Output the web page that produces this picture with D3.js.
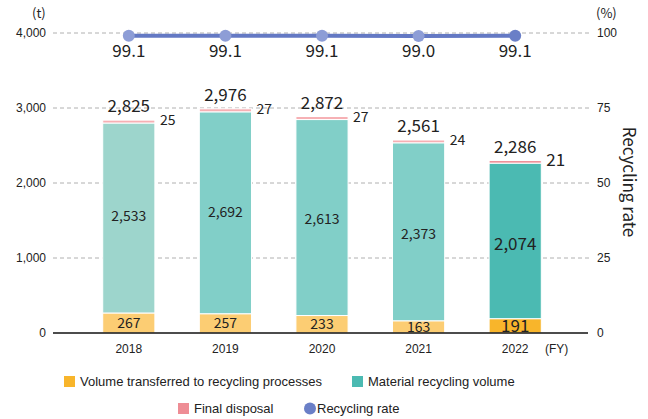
<!DOCTYPE html>
<html>
<head>
<meta charset="utf-8">
<script src="https://cdn.jsdelivr.net/npm/d3@7"></script>
<style>
body { margin:0; background:#fff; }
svg { display:block; }
.num { font-family:"Noto Sans CJK JP","Noto Sans",sans-serif; fill:#222; }
.tick { font-family:"Liberation Sans",Arial,sans-serif; font-size:12px; fill:#222; }
.leg { font-family:"Liberation Sans",Arial,sans-serif; font-size:13px; fill:#222; }
</style>
</head>
<body>
<svg class="chart"></svg>
<script>
var years = ["2018","2019","2020","2021","2022"];
var transferred = [267, 257, 233, 163, 191];
var material = [2533, 2692, 2613, 2373, 2074];
var disposal = [25, 27, 27, 24, 21];
var totals = [2825, 2976, 2872, 2561, 2286];
var rate = [99.1, 99.1, 99.1, 99.0, 99.1];
var leftTicks = [0, 1000, 2000, 3000, 4000];
var rightTicks = [0, 25, 50, 75, 100];

var screen = {width:648, height:419};
var plot = {left:53, right:590, top:33, bottom:333};

var svg = d3.select(".chart")
    .attr("width", screen.width)
    .attr("height", screen.height);

var xScale = d3.scaleBand()
    .domain(years)
    .range([80.5, 563.5])
    .paddingInner(0.46)
    .paddingOuter(0.23);

var yScale = d3.scaleLinear()
    .domain([0, 4000])
    .range([plot.bottom, plot.top]);

var rScale = d3.scaleLinear()
    .domain([0, 100])
    .range([plot.bottom, plot.top]);

var fmt = d3.format(",");

// grid lines
svg.append("g")
    .selectAll("line")
    .data(leftTicks.filter(function(d){ return d > 0; }))
    .enter()
    .append("line")
    .attr("x1", plot.left)
    .attr("x2", plot.right)
    .attr("y1", function(d){ return yScale(d); })
    .attr("y2", function(d){ return yScale(d); })
    .attr("stroke", "#b0b0b0")
    .attr("stroke-dasharray", "4,3");

// left ticks
svg.append("g")
    .selectAll("text")
    .data(leftTicks)
    .enter()
    .append("text")
    .classed("tick", true)
    .attr("x", 46)
    .attr("y", function(d){ return yScale(d) + 4; })
    .attr("text-anchor", "end")
    .text(function(d){ return fmt(d); });

// right ticks
svg.append("g")
    .selectAll("text")
    .data(rightTicks)
    .enter()
    .append("text")
    .classed("tick", true)
    .attr("x", 597)
    .attr("y", function(d){ return rScale(d) + 4; })
    .text(function(d){ return d; });

svg.append("text").classed("num", true).attr("font-size", 13)
    .attr("x", 32).attr("y", 18).text("(t)");
svg.append("text").classed("num", true).attr("font-size", 13)
    .attr("x", 596).attr("y", 18).text("(%)");
svg.append("text").classed("tick", true).attr("font-size", 13)
    .attr("x", 545).attr("y", 353).text("(FY)");

svg.append("text")
    .classed("num", true)
    .attr("font-size", 17)
    .attr("text-anchor", "middle")
    .attr("transform", "translate(623,182) rotate(90)")
    .text("Recycling rate");

// bars
var colYellow = ["#fccd73","#fccd73","#fccd73","#fccd73","#f8b52b"];
var colTeal = ["#9dd5cc","#81cfc8","#81cfc8","#81cfc8","#4bbab2"];
var colPink = ["#f6b0b4","#f6b0b4","#f6b0b4","#f6b0b4","#ee8d95"];

var bars = svg.append("g")
    .selectAll("g")
    .data(years)
    .enter()
    .append("g");

bars.append("rect")
    .attr("x", function(d){ return xScale(d); })
    .attr("width", xScale.bandwidth())
    .attr("y", function(d,i){ return yScale(transferred[i]); })
    .attr("height", function(d,i){ return yScale(0) - yScale(transferred[i]); })
    .attr("fill", function(d,i){ return colYellow[i]; })
    .attr("stroke", "#fff").attr("stroke-width", 1);

bars.append("rect")
    .attr("x", function(d){ return xScale(d); })
    .attr("width", xScale.bandwidth())
    .attr("y", function(d,i){ return yScale(transferred[i] + material[i]); })
    .attr("height", function(d,i){ return yScale(transferred[i]) - yScale(transferred[i] + material[i]); })
    .attr("fill", function(d,i){ return colTeal[i]; })
    .attr("stroke", "#fff").attr("stroke-width", 1);

bars.append("rect")
    .attr("x", function(d){ return xScale(d); })
    .attr("width", xScale.bandwidth())
    .attr("y", function(d,i){ return yScale(transferred[i] + material[i] + disposal[i]) - 1; })
    .attr("height", function(d,i){ return yScale(transferred[i] + material[i]) - yScale(transferred[i] + material[i] + disposal[i]) + 1; })
    .attr("fill", function(d,i){ return colPink[i]; })
    .attr("stroke", "#fff").attr("stroke-width", 1);

var cx = function(d){ return xScale(d) + xScale.bandwidth()/2; };

// labels
bars.append("text")
    .classed("num", true)
    .attr("text-anchor", "middle")
    .attr("font-size", function(d,i){ return i == 4 ? 17 : 14; })
    .attr("x", cx)
    .attr("y", function(d,i){ return yScale(transferred[i]/2) + (i == 4 ? 6 : 5); })
    .text(function(d,i){ return fmt(transferred[i]); });

bars.append("text")
    .classed("num", true)
    .attr("text-anchor", "middle")
    .attr("font-size", function(d,i){ return i == 4 ? 17 : 14; })
    .attr("x", cx)
    .attr("y", function(d,i){ return yScale(transferred[i] + material[i]/2) + 3 + i*1.5; })
    .text(function(d,i){ return fmt(material[i]); });

bars.append("text")
    .classed("num", true)
    .attr("font-size", function(d,i){ return i == 4 ? 17 : 14; })
    .attr("x", function(d){ return xScale(d) + xScale.bandwidth() + 5; })
    .attr("y", function(d,i){ return yScale(totals[i]) + 4; })
    .text(function(d,i){ return disposal[i]; });

bars.append("text")
    .classed("num", true)
    .attr("font-size", 17)
    .attr("text-anchor", "middle")
    .attr("x", cx)
    .attr("y", function(d,i){ return yScale(totals[i]) - 9; })
    .text(function(d,i){ return fmt(totals[i]); });

bars.append("text")
    .classed("tick", true)
    .attr("font-size", 13)
    .attr("text-anchor", "middle")
    .attr("x", cx)
    .attr("y", 353)
    .text(function(d){ return d; });

// zero line
svg.append("line")
    .attr("x1", plot.left).attr("x2", 588)
    .attr("y1", yScale(0)).attr("y2", yScale(0))
    .attr("stroke", "#111").attr("stroke-width", 1.5);

// recycling rate line
var line = d3.line()
    .x(function(d,i){ return cx(years[i]); })
    .y(function(d){ return rScale(d); });

svg.append("path")
    .datum(rate)
    .attr("d", line)
    .attr("fill", "none")
    .attr("stroke", "#6479c4")
    .attr("stroke-width", 4);

svg.append("g")
    .selectAll("circle")
    .data(rate)
    .enter()
    .append("circle")
    .attr("cx", function(d,i){ return cx(years[i]); })
    .attr("cy", function(d){ return rScale(d); })
    .attr("r", 6)
    .attr("fill", function(d,i){ return i == 4 ? "#6a7fc7" : "#8d9dd6"; });

svg.append("g")
    .selectAll("text")
    .data(rate)
    .enter()
    .append("text")
    .classed("num", true)
    .attr("font-size", 17)
    .attr("text-anchor", "middle")
    .attr("x", function(d,i){ return cx(years[i]); })
    .attr("y", 57)
    .text(function(d){ return d.toFixed(1); });

// legend
var legend = svg.append("g");
legend.append("rect").attr("x", 64).attr("y", 376).attr("width", 11).attr("height", 11).attr("fill", "#f8b52b");
legend.append("text").classed("leg", true).attr("x", 80).attr("y", 386).text("Volume transferred to recycling processes");
legend.append("rect").attr("x", 352).attr("y", 376).attr("width", 11).attr("height", 11).attr("fill", "#4bbab2");
legend.append("text").classed("leg", true).attr("x", 368).attr("y", 386).text("Material recycling volume");
legend.append("rect").attr("x", 178).attr("y", 403).attr("width", 11).attr("height", 11).attr("fill", "#ee8d95");
legend.append("text").classed("leg", true).attr("x", 194).attr("y", 413).text("Final disposal");
legend.append("circle").attr("cx", 310).attr("cy", 408.5).attr("r", 6).attr("fill", "#6a7fc7");
legend.append("text").classed("leg", true).attr("x", 317).attr("y", 413).text("Recycling rate");
</script>
</body>
</html>
